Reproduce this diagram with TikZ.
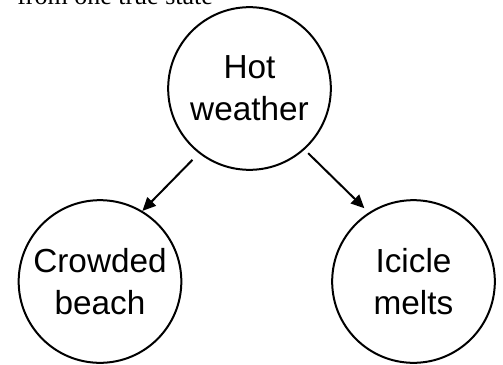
\documentclass[tikz,border=0pt]{standalone}
\usepackage{fontspec}
\setmainfont{Liberation Serif}
\newfontfamily\circfont{Liberation Sans}
\usetikzlibrary{arrows.meta, positioning, calc}

\tikzset{
  state/.style={circle, draw=black, line width=1.5pt, minimum size=122pt, inner sep=0pt,
    align=center, font=\circfont\fontsize{25}{31.5}\selectfont},
  causes/.style={-{Triangle[length=10pt, width=9pt]}, line width=1.5pt}
}

\begin{document}
\begin{tikzpicture}[x=0.75pt, y=-0.75pt]
      \useasboundingbox (0, 0) rectangle (503, 364);
      \node[anchor=base west, inner sep=0pt, font=\fontsize{19.5}{23}\selectfont] (caption) at (17, 4) {from one true state};

      \node[state] (hot) at (249.5, 88.5) {Hot\\weather};
      \node[state] (crowd) at (100, 281.5) {Crowded\\beach};
      \node[state] (icicle) at (413.5, 281.5) {Icicle\\melts};

      \draw[causes, shorten <=6.75pt] (hot.232) -- (crowd.59);
      \draw[causes, shorten <=3.75pt, shorten >=4.5pt] (hot.-48) -- (icicle.123);
    \end{tikzpicture}
\end{document}
